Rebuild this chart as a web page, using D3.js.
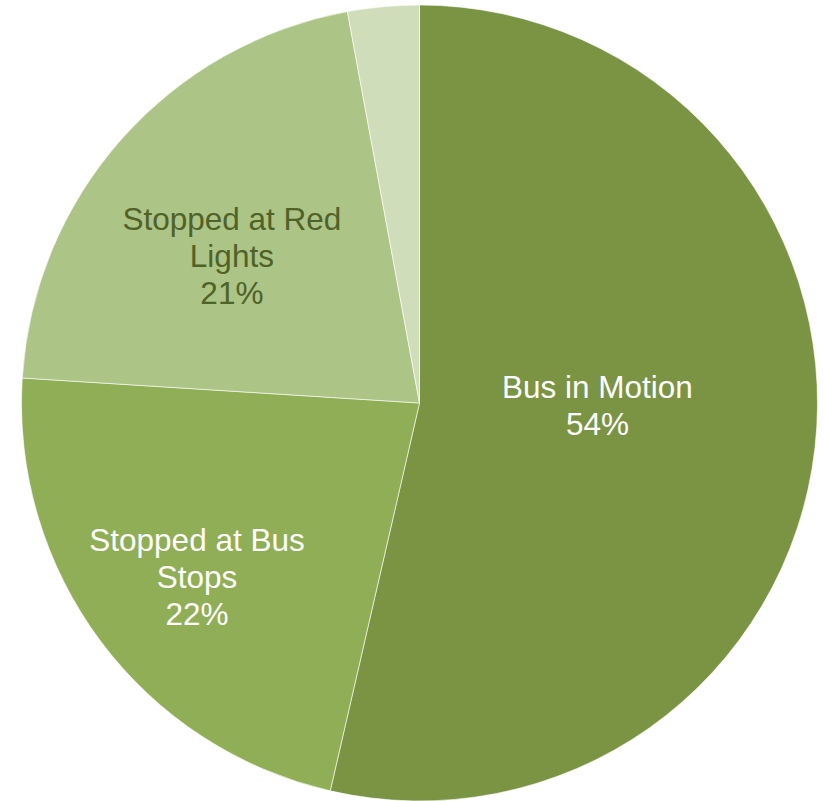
<!DOCTYPE html>
<html>
<head>
<meta charset="utf-8">
<script src="https://cdn.jsdelivr.net/npm/d3@7"></script>
<style>
  body { margin: 0; background: #fff; }
  svg { display: block; }
</style>
</head>
<body>
<script>
// slice data, clockwise from 12 o'clock
var categories = ["Bus in Motion", "Stopped at Bus Stops", "Stopped at Red Lights", "Other"]
var labelLines = [["Bus in Motion"], ["Stopped at Bus", "Stops"], ["Stopped at Red", "Lights"], []]
var values = [53.6, 22.4, 21.1, 2.9]
var pctLabels = ["54%", "22%", "21%", ""]

var colors = ["#7a9444", "#8fae55", "#acc485", "#d0ddbb"]
var textColors = ["#ffffff", "#ffffff", "#4f6228", "#4f6228"]
// label placement: fraction of radius along mid angle, plus a small nudge
var labelDist = [0.45, 0.71, 0.6, 0.8]
var labelNudge = [[0, -18], [4, 5], [-9, 11], [0, 0]]

var width = 824, height = 801
var cx = 419.5, cy = 403, radius = 398

var svg = d3.select("body")
            .append("svg")
            .attr("width", width)
            .attr("height", height)

var g = svg.append("g").attr("transform", "translate(" + cx + "," + cy + ")")

var pie = d3.pie().sort(null).value(function(d){ return d })
var arcs = pie(values)

var arc = d3.arc().innerRadius(0).outerRadius(radius)

g.selectAll("path")
  .data(arcs)
  .enter()
  .append("path")
  .attr("d", arc)
  .style("fill", function(d, i){ return colors[i] })
  .style("stroke", "#ffffff")
  .style("stroke-opacity", 0.6)
  .style("stroke-width", 1)

var lineH = 37
arcs.forEach(function(d, i){
  var lines = labelLines[i].concat(pctLabels[i] ? [pctLabels[i]] : [])
  if (!lines.length) return
  var a = (d.startAngle + d.endAngle) / 2
  var r = radius * labelDist[i]
  var x = Math.sin(a) * r + labelNudge[i][0], y = -Math.cos(a) * r + labelNudge[i][1]
  var t = g.append("text")
    .attr("x", x)
    .attr("y", y - (lines.length - 1) * lineH / 2)
    .attr("text-anchor", "middle")
    .attr("dominant-baseline", "central")
    .style("font-family", "'Liberation Sans', Arial, sans-serif")
    .style("font-size", "31.5px")
    .style("fill", textColors[i])
  lines.forEach(function(l, j){
    t.append("tspan").attr("x", x).attr("dy", j == 0 ? 0 : lineH).text(l)
  })
})
</script>
</body>
</html>
